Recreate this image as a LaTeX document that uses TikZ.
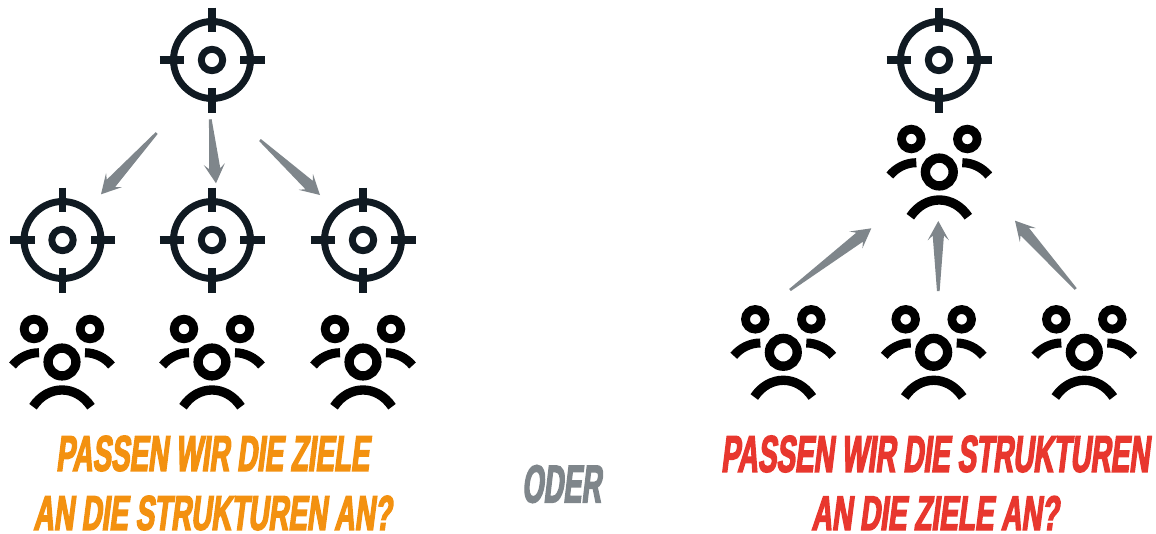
\documentclass[tikz,border=0pt]{standalone}
\usepackage{fontspec}
\usepackage{graphicx}
\usetikzlibrary{calc}
\newfontfamily\bangerfont[FakeSlant=0.14,FakeStretch=0.62,FakeBold=3]{Liberation Sans}
\definecolor{targetcol}{HTML}{101A22}
\definecolor{arrowcol}{HTML}{7F868B}
\definecolor{orangecol}{HTML}{F39110}
\definecolor{redcol}{HTML}{E8372E}
\newcommand{\fittext}[3]{\resizebox{\dimexpr #1pt*3/4\relax}{\dimexpr #2pt*3/4\relax}{\bangerfont\bfseries #3}}
\newcommand{\taper}[2]{%
  \fill[arrowfill]
    ($(#1)!1pt!90:(#2)$) --
    ($(#2)!11pt!(#1)!4.2pt!-90:(#1)$) --
    ($(#2)!14.5pt!(#1)!8pt!-90:(#1)$) --
    (#2) --
    ($(#2)!14.5pt!(#1)!8pt!90:(#1)$) --
    ($(#2)!11pt!(#1)!4.2pt!90:(#1)$) --
    ($(#1)!1pt!-90:(#2)$) -- cycle;}
\tikzset{
  arrowfill/.style={fill=arrowcol},
  headline/.style={inner sep=0pt,outer sep=0pt,anchor=center},
  target/.pic={
    \draw[targetcol,line width=5.2pt] (0,0) circle[radius=38.5];
    \draw[targetcol,line width=5.2pt] (0,0) circle[radius=10.7];
    \draw[targetcol,line width=5.6pt]
      (0,-52.5) -- (0,-28) (0,52.5) -- (0,28) (-52.5,0) -- (-28,0) (52.5,0) -- (28,0);
  },
  people/.pic={
    \draw[black,line width=7pt] (0,0) circle[radius=13.9];
    \draw[black,line width=6.6pt] (-28,-33) circle[radius=9.8] (28,-33) circle[radius=9.8];
    \draw[black,line width=6.8pt] (-23,-9.3) .. controls (-33,-9.3) and (-43,-4.5) .. (-49.5,3.5);
    \draw[black,line width=6.8pt] (23,-9.3) .. controls (33,-9.3) and (43,-4.5) .. (49.5,3.5);
    \draw[black,line width=7pt] (-29,44.7) .. controls (-14,22.4) and (14,22.4) .. (29,44.7);
  }
}
\begin{document}
\begin{tikzpicture}[x=0.75pt,y=-0.75pt]
\useasboundingbox (0,0) rectangle (1156,533);
% targets
\pic at (212,60) {target};
\pic at (62.5,240) {target};
\pic at (212,240) {target};
\pic at (363,240) {target};
\pic at (939,60) {target};
% people
\pic at (62,362) {people};
\pic at (212,362) {people};
\pic at (363,362) {people};
\pic at (939.3,172) {people};
\pic at (783.3,352.3) {people};
\pic at (933.7,352.3) {people};
\pic at (1084.3,352.3) {people};
% connector ends
\coordinate (a1t) at (156.7,133);   \coordinate (a1h) at (101,194.3);
\coordinate (a2t) at (210.3,119.3); \coordinate (a2h) at (216,183.3);
\coordinate (a3t) at (260,140);     \coordinate (a3h) at (320,195);
\coordinate (b1t) at (790,290);     \coordinate (b1h) at (871.3,228.3);
\coordinate (b2t) at (938.3,291);   \coordinate (b2h) at (938.3,221);
\coordinate (b3t) at (1075.7,289);  \coordinate (b3h) at (1015,220.7);
\taper{a1t}{a1h}
\taper{a2t}{a2h}
\taper{a3t}{a3h}
\taper{b1t}{b1h}
\taper{b2t}{b2h}
\taper{b3t}{b3h}
% texts
\node[headline,text=orangecol] (l1) at (212.5,453.5) {\fittext{313}{35}{PASSEN WIR DIE ZIELE}};
\node[headline,text=orangecol] (l2) at (212.5,513) {\fittext{358}{34}{AN DIE STRUKTUREN AN?}};
\node[headline,text=arrowcol] (or) at (561.5,484) {\fittext{79}{37}{ODER}};
\node[headline,text=redcol] (r1) at (935,454) {\fittext{428}{36}{PASSEN WIR DIE STRUKTUREN}};
\node[headline,text=redcol] (r2) at (935,513) {\fittext{247}{34}{AN DIE ZIELE AN?}};
\end{tikzpicture}
\end{document}
